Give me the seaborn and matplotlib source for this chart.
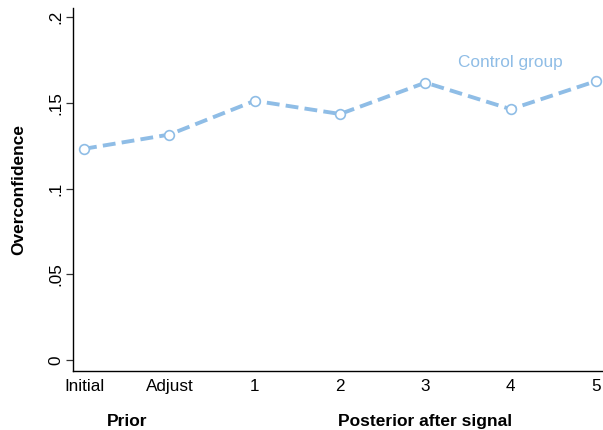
import matplotlib
matplotlib.use("Agg")
import matplotlib.pyplot as plt
import seaborn as sns
import pandas as pd

stages = ["Initial", "Adjust", "1", "2", "3", "4", "5"]
overconfidence = [0.1232, 0.1315, 0.1512, 0.1435, 0.1618, 0.1463, 0.1627]
y_ticks = [0, 0.05, 0.1, 0.15, 0.2]
y_tick_labels = ["0", ".05", ".1", ".15", ".2"]

sns.set_theme(style="white")
plt.rcParams["font.family"] = ["Liberation Sans", "DejaVu Sans"]
plt.rcParams["text.color"] = "black"
plt.rcParams["axes.labelcolor"] = "black"

color = "#8fbde6"
df = pd.DataFrame({"stage": stages, "value": overconfidence})

fig = plt.figure(figsize=(6.03, 4.30), dpi=100)
ax = fig.add_axes([0.121, 0.137, 0.879, 0.844])

sns.pointplot(data=df, x="stage", y="value", order=stages, color=color,
              linestyles="--", markers="o", ax=ax,
              markersize=7, markerfacecolor="white", markeredgecolor=color,
              markeredgewidth=1.2, linewidth=2.8)
for ln in ax.lines:
    ln.set_clip_on(False)
    ln.set_dashes([3.3, 1.6])
    ln.set_zorder(5)
for coll in ax.collections:
    coll.set_clip_on(False)

xmin, xmax = -0.13, 6.08
ymin, ymax = -0.0064, 0.2052
ax.set_xlim(xmin, xmax)
ax.set_ylim(ymin, ymax)
ax.set_yticks(y_ticks)
ax.set_yticklabels(y_tick_labels, rotation=90, va="center")
ax.tick_params(axis="both", which="both", length=5, width=0.9, color="#333333",
               labelsize=12.3, labelcolor="black", left=True, bottom=False)
ax.tick_params(axis="y", pad=2)
ax.tick_params(axis="x", pad=1)

for s in ["top", "right"]:
    ax.spines[s].set_visible(False)
for s in ["left", "bottom"]:
    ax.spines[s].set_color("black")
    ax.spines[s].set_linewidth(1.0)

ax.set_xlabel("")
ax.set_ylabel("Overconfidence", fontsize=12.5, fontweight="bold", labelpad=16)

def ax_x(v):
    return (v - xmin) / (xmax - xmin)

ax.text(ax_x(stages.index("3") + 0.38), (0.1738 - ymin) / (ymax - ymin), "Control group",
        color=color, fontsize=12.4, va="center", ha="left", transform=ax.transAxes)
ax.text(ax_x(0.5), -0.138, "Prior", fontsize=12.5, fontweight="bold", ha="center",
        va="center", transform=ax.transAxes, clip_on=False)
ax.text(ax_x(stages.index("3")), -0.138, "Posterior after signal", fontsize=12.5,
        fontweight="bold", ha="center", va="center", transform=ax.transAxes, clip_on=False)

fig.savefig("out.png", dpi=100)
